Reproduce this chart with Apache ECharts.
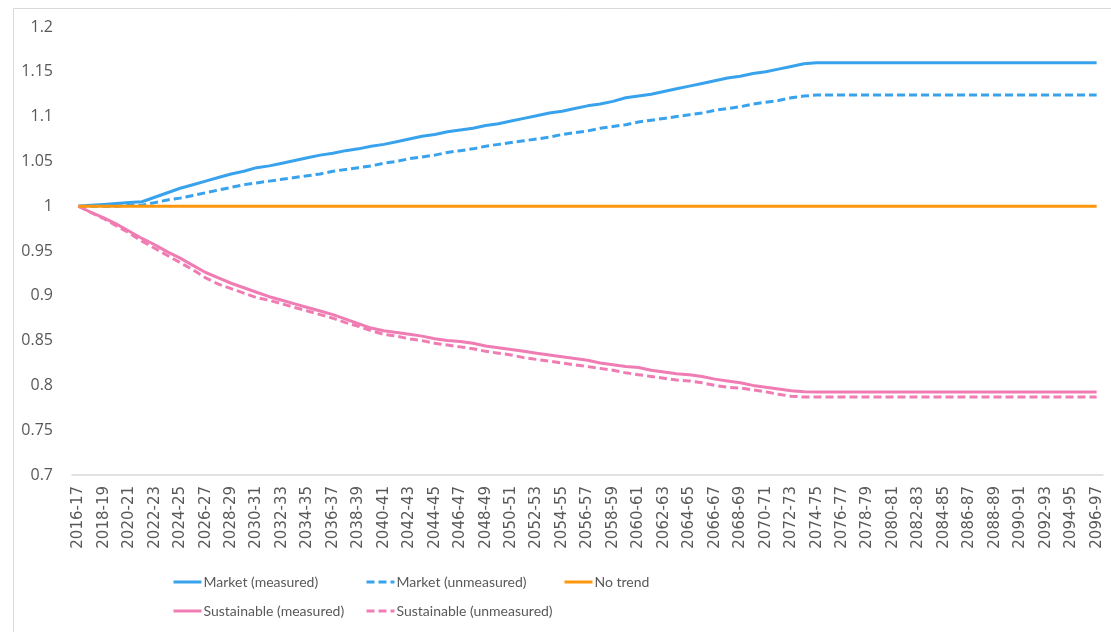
<!DOCTYPE html>
<html>
<head>
<meta charset="utf-8">
<script src="https://cdn.jsdelivr.net/npm/echarts@6/dist/echarts.min.js"></script>
<style>
  html, body { margin: 0; padding: 0; background: #fff; }
  #chart { width: 1111px; height: 632px; }
</style>
</head>
<body>
<div id="chart"></div>
<script>
// financial years 2016-17 .. 2096-97
const years = [];
for (let y = 2016; y <= 2096; y++) {
  years.push(y + '-' + String((y + 1) % 100).padStart(2, '0'));
}

const marketMeasured = [
  1.000, 1.001, 1.002, 1.003, 1.004, 1.005, 1.010, 1.015, 1.020, 1.024,
  1.028, 1.032, 1.036, 1.039, 1.043, 1.045, 1.048, 1.051, 1.054, 1.057,
  1.059, 1.062, 1.064, 1.067, 1.069, 1.072, 1.075, 1.078, 1.080, 1.083,
  1.085, 1.087, 1.090, 1.092, 1.095, 1.098, 1.101, 1.104, 1.106, 1.109,
  1.112, 1.114, 1.117, 1.121, 1.123, 1.125, 1.128, 1.131, 1.134, 1.137,
  1.140, 1.143, 1.145, 1.148, 1.150, 1.153, 1.156, 1.159, 1.160, 1.160,
  1.160, 1.160, 1.160, 1.160, 1.160, 1.160, 1.160, 1.160, 1.160, 1.160,
  1.160, 1.160, 1.160, 1.160, 1.160, 1.160, 1.160, 1.160, 1.160, 1.160,
  1.160
];

const marketUnmeasured = [
  1.000, 1.000, 1.000, 1.000, 1.001, 1.001, 1.004, 1.007, 1.009, 1.012,
  1.015, 1.018, 1.021, 1.024, 1.026, 1.028, 1.030, 1.032, 1.034, 1.036,
  1.039, 1.041, 1.043, 1.045, 1.048, 1.050, 1.053, 1.055, 1.057, 1.060,
  1.062, 1.064, 1.067, 1.069, 1.071, 1.073, 1.075, 1.077, 1.080, 1.082,
  1.084, 1.087, 1.089, 1.091, 1.094, 1.096, 1.098, 1.100, 1.102, 1.104,
  1.107, 1.109, 1.111, 1.114, 1.116, 1.118, 1.121, 1.123, 1.124, 1.124,
  1.124, 1.124, 1.124, 1.124, 1.124, 1.124, 1.124, 1.124, 1.124, 1.124,
  1.124, 1.124, 1.124, 1.124, 1.124, 1.124, 1.124, 1.124, 1.124, 1.124,
  1.124
];

const noTrend = [
  1, 1, 1, 1, 1, 1, 1, 1, 1, 1, 1, 1, 1, 1, 1, 1, 1, 1, 1, 1,
  1, 1, 1, 1, 1, 1, 1, 1, 1, 1, 1, 1, 1, 1, 1, 1, 1, 1, 1, 1,
  1, 1, 1, 1, 1, 1, 1, 1, 1, 1, 1, 1, 1, 1, 1, 1, 1, 1, 1, 1,
  1, 1, 1, 1, 1, 1, 1, 1, 1, 1, 1, 1, 1, 1, 1, 1, 1, 1, 1, 1,
  1
];

const sustMeasured = [
  1.000, 0.993, 0.987, 0.980, 0.972, 0.964, 0.957, 0.949, 0.942, 0.934,
  0.926, 0.920, 0.914, 0.909, 0.904, 0.899, 0.895, 0.891, 0.887, 0.883,
  0.879, 0.874, 0.869, 0.864, 0.861, 0.859, 0.857, 0.855, 0.852, 0.850,
  0.849, 0.847, 0.844, 0.842, 0.840, 0.838, 0.836, 0.834, 0.832, 0.830,
  0.828, 0.825, 0.823, 0.821, 0.820, 0.817, 0.815, 0.813, 0.812, 0.810,
  0.807, 0.805, 0.803, 0.800, 0.798, 0.796, 0.794, 0.793, 0.7925, 0.7925,
  0.7925, 0.7925, 0.7925, 0.7925, 0.7925, 0.7925, 0.7925, 0.7925, 0.7925, 0.7925,
  0.7925, 0.7925, 0.7925, 0.7925, 0.7925, 0.7925, 0.7925, 0.7925, 0.7925, 0.7925,
  0.7925
];

const sustUnmeasured = [
  1.000, 0.993, 0.986, 0.978, 0.970, 0.961, 0.953, 0.945, 0.937, 0.929,
  0.920, 0.913, 0.908, 0.903, 0.898, 0.895, 0.891, 0.887, 0.883, 0.879,
  0.875, 0.870, 0.866, 0.861, 0.857, 0.855, 0.852, 0.850, 0.847, 0.845,
  0.843, 0.841, 0.838, 0.836, 0.834, 0.831, 0.829, 0.827, 0.825, 0.823,
  0.821, 0.819, 0.817, 0.814, 0.812, 0.810, 0.808, 0.806, 0.805, 0.803,
  0.800, 0.798, 0.797, 0.795, 0.793, 0.790, 0.788, 0.787, 0.787, 0.787,
  0.787, 0.787, 0.787, 0.787, 0.787, 0.787, 0.787, 0.787, 0.787, 0.787,
  0.787, 0.787, 0.787, 0.787, 0.787, 0.787, 0.787, 0.787, 0.787, 0.787,
  0.787
];

const BLUE = '#38a3ec';
const ORANGE = '#ff960c';
const PINK = '#f07cb4';
const FONT = 'Open Sans';

const chart = echarts.init(document.getElementById('chart'), null, { renderer: 'canvas' });

function line(name, data, color, dashed, z) {
  return {
    name: name,
    type: 'line',
    data: data,
    symbol: 'none',
    z: z,
    lineStyle: { color: color, width: 3, type: dashed ? [8, 4] : 'solid' },
    itemStyle: { color: color },
    emphasis: { disabled: true }
  };
}

function legendAt(name, left, top) {
  return {
    data: [name],
    left: left,
    top: top,
    itemWidth: 28,
    itemHeight: 3,
    itemGap: 4,
    padding: 0,
    selectedMode: false,
    itemStyle: { opacity: 0 },
    lineStyle: { width: 3 },
    textStyle: { fontFamily: 'Lato', fontSize: 14, color: '#595959', padding: [0, 0, 0, -3] }
  };
}

chart.setOption({
  animation: false,
  backgroundColor: '#fff',
  graphic: [{
    type: 'rect',
    left: 11, top: 6,
    shape: { width: 1110, height: 640 },
    style: { fill: 'none', stroke: '#d9d9d9', lineWidth: 1 },
    silent: true
  }],
  grid: { left: 72, right: 8, top: 27, bottom: 157 },
  legend: [
    legendAt('Market (measured)', 172, 575),
    legendAt('Market (unmeasured)', 365, 575),
    legendAt('No trend', 563, 575),
    legendAt('Sustainable (measured)', 172, 604),
    legendAt('Sustainable (unmeasured)', 365, 604)
  ],
  xAxis: {
    type: 'category',
    data: years,
    boundaryGap: true,
    axisLine: { lineStyle: { color: '#d9d9d9', width: 1.5 } },
    axisTick: { show: false },
    axisLabel: {
      rotate: 90,
      interval: 1,
      margin: 11,
      fontFamily: 'DejaVu Sans',
      fontSize: 15,
      color: '#595959'
    }
  },
  yAxis: {
    type: 'value',
    min: 0.7,
    max: 1.2,
    interval: 0.05,
    axisLine: { show: false },
    axisTick: { show: false },
    splitLine: { show: false },
    axisLabel: {
      margin: 19,
      fontFamily: FONT,
      fontSize: 16,
      color: '#595959'
    }
  },
  series: [
    line('Market (measured)', marketMeasured, BLUE, false, 3),
    line('Market (unmeasured)', marketUnmeasured, BLUE, true, 3),
    line('No trend', noTrend, ORANGE, false, 4),
    line('Sustainable (measured)', sustMeasured, PINK, false, 3),
    line('Sustainable (unmeasured)', sustUnmeasured, PINK, true, 3)
  ]
});
</script>
</body>
</html>
